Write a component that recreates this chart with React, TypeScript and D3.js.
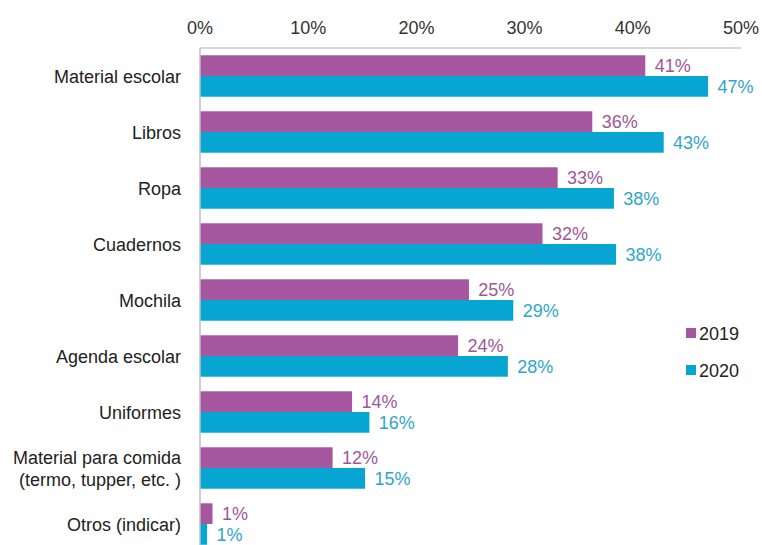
import React from "react";
import * as d3 from "d3";

const categories: string[][] = [
  ["Material escolar"],
  ["Libros"],
  ["Ropa"],
  ["Cuadernos"],
  ["Mochila"],
  ["Agenda escolar"],
  ["Uniformes"],
  ["Material para comida", "(termo, tupper, etc. )"],
  ["Otros (indicar)"],
];
const values2019 = [41.1, 36.2, 33, 31.6, 24.8, 23.8, 14, 12.2, 1.1];
const values2020 = [46.9, 42.8, 38.2, 38.4, 28.9, 28.4, 15.6, 15.2, 0.6];
const labels2019 = ["41%", "36%", "33%", "32%", "25%", "24%", "14%", "12%", "1%"];
const labels2020 = ["47%", "43%", "38%", "38%", "29%", "28%", "16%", "15%", "1%"];
const ticks = [0, 10, 20, 30, 40, 50];
const seriesNames = ["2019", "2020"];

const W = 762;
const H = 545;
const C19 = "#a6579f";
const C20 = "#06a5d2";
const T19 = "#9e5699";
const T20 = "#2ea6cc";
const FONT = "Liberation Sans, Arial, sans-serif";

export default function App() {
  const x = d3.scaleLinear().domain([0, 50]).range([200, 741]);
  const y = d3
    .scaleBand<number>()
    .domain(d3.range(categories.length))
    .range([48, 552])
    .paddingInner(0.26)
    .paddingOuter(0.13);
  const bh = y.bandwidth() / 2;

  return (
    <svg
      width={W}
      height={H}
      style={{ position: "absolute", left: 0, top: 0, background: "#fff" }}
      fontFamily={FONT}
    >
      {ticks.map((t) => (
        <text
          key={t}
          x={x(t)}
          y={34}
          textAnchor="middle"
          fontSize={18}
          fill="#333"
        >
          {t}%
        </text>
      ))}
      <line x1={x(0)} x2={x(50)} y1={48} y2={48} stroke="#b0b0b0" strokeWidth={1.2} />
      <line x1={x(0)} x2={x(0)} y1={48} y2={H} stroke="#b0b0b0" strokeWidth={1.2} />
      {categories.map((lines, i) => {
        const y0 = y(i)!;
        const cy = y0 + bh;
        return (
          <g key={i}>
            <rect x={x(0) + 0.6} y={y0} width={x(values2019[i]) - x(0)} height={bh} fill={C19} />
            <rect x={x(0) + 0.6} y={y0 + bh} width={x(values2020[i]) - x(0)} height={bh} fill={C20} />
            <text
              x={x(values2019[i]) + 10}
              y={y0 + bh / 2 + 6.5}
              fontSize={18}
              fill={T19}
            >
              {labels2019[i]}
            </text>
            <text
              x={x(values2020[i]) + 10}
              y={y0 + bh * 1.5 + 6.5}
              fontSize={18}
              fill={T20}
            >
              {labels2020[i]}
            </text>
            {lines.map((l, j) => (
              <text
                key={j}
                x={181}
                y={cy + 6.5 + (j - (lines.length - 1) / 2) * 22}
                textAnchor="end"
                fontSize={18}
                fill="#222"
              >
                {l}
              </text>
            ))}
          </g>
        );
      })}
      {seriesNames.map((s, i) => (
        <g key={s} transform={`translate(686, ${328 + i * 37})`}>
          <rect x={0} y={0} width={10} height={10} fill={i === 0 ? C19 : C20} />
          <text x={13} y={12} fontSize={18} fill="#222">
            {s}
          </text>
        </g>
      ))}
    </svg>
  );
}
